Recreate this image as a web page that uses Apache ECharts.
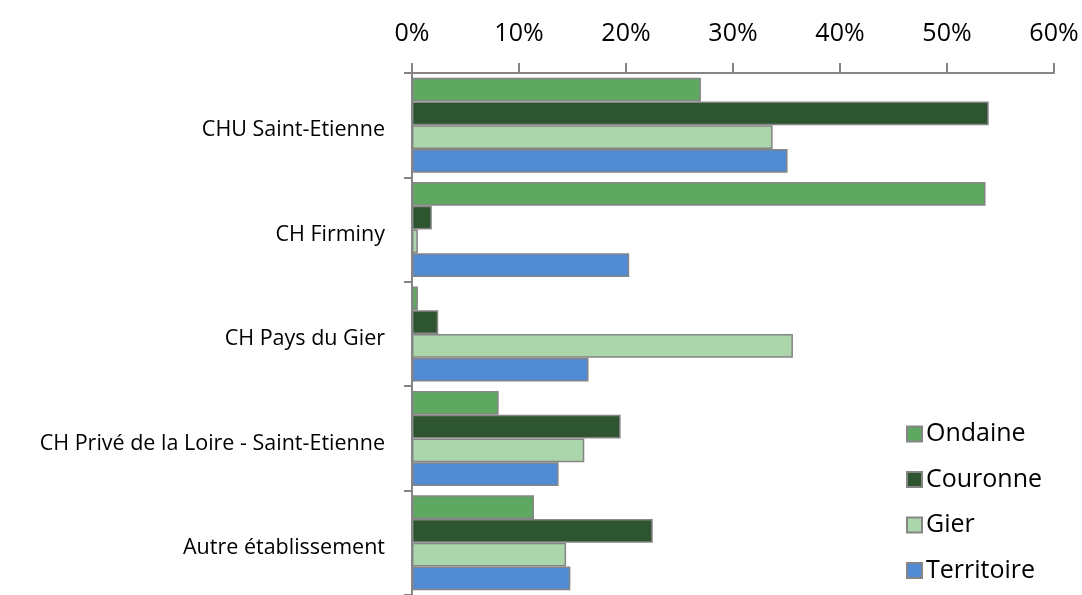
<!DOCTYPE html>
<html>
<head>
<meta charset="utf-8">
<script src="https://cdn.jsdelivr.net/npm/echarts@6/dist/echarts.min.js"></script>
<style>
  html, body { margin: 0; padding: 0; background: #fff; }
  #chart { width: 1082px; height: 595px; }
</style>
</head>
<body>
<div id="chart"></div>
<script>
// etablissements, du haut vers le bas
const categories = [
  "CHU Saint-Etienne",
  "CH Firminy",
  "CH Pays du Gier",
  "CH Privé de la Loire - Saint-Etienne",
  "Autre établissement"
];
const ondaine = [27.0, 53.6, 0.55, 8.1, 11.4];
const couronne = [53.9, 1.85, 2.45, 19.5, 22.5];
const gier = [33.7, 0.55, 35.6, 16.1, 14.4];
const territoire = [35.1, 20.3, 16.5, 13.7, 14.8];

const grey = "#858585";
const font = "Open Sans";

function serie(name, data, color) {
  return {
    name: name,
    type: "bar",
    data: data,
    barGap: "0%",
    barCategoryGap: "9%",
    itemStyle: { color: color, borderColor: grey, borderWidth: 1.5 }
  };
}

const chart = echarts.init(document.getElementById("chart"));
chart.setOption({
  animation: false,
  textStyle: { fontFamily: font },
  grid: { left: 412, right: 28, top: 73, height: 527 },
  legend: {
    orient: "vertical",
    left: 901,
    top: 416,
    itemWidth: 15,
    itemHeight: 15,
    itemGap: 19.5,
    icon: "rect",
    textStyle: { fontSize: 25, color: "#000", fontFamily: font, lineHeight: 26, padding: [0, 0, 0, -1] },
    data: ["Ondaine", "Couronne", "Gier", "Territoire"]
  },
  xAxis: {
    type: "value",
    position: "top",
    min: 0,
    max: 60,
    interval: 10,
    splitLine: { show: false },
    axisLine: { show: true, lineStyle: { color: grey, width: 2 } },
    axisTick: { show: true, length: 10, lineStyle: { color: grey, width: 2 } },
    axisLabel: { formatter: "{value}%", fontSize: 25, color: "#000", margin: 27, fontFamily: font }
  },
  yAxis: {
    type: "category",
    inverse: true,
    data: categories,
    axisLine: { show: true, lineStyle: { color: grey, width: 2 } },
    axisTick: { show: true, length: 8, lineStyle: { color: grey, width: 2 } },
    axisLabel: {
      color: "#000",
      margin: 27,
      formatter: (v) => "{c|" + v + "}",
      rich: {
        c: { fontSize: 21.5, color: "#000", fontFamily: font, padding: [10, 0, 0, 0] }
      }
    }
  },
  series: [
    serie("Ondaine", ondaine, "#5fa862"),
    serie("Couronne", couronne, "#2d5630"),
    serie("Gier", gier, "#abd5ab"),
    serie("Territoire", territoire, "#508bd3")
  ]
});
</script>
</body>
</html>
